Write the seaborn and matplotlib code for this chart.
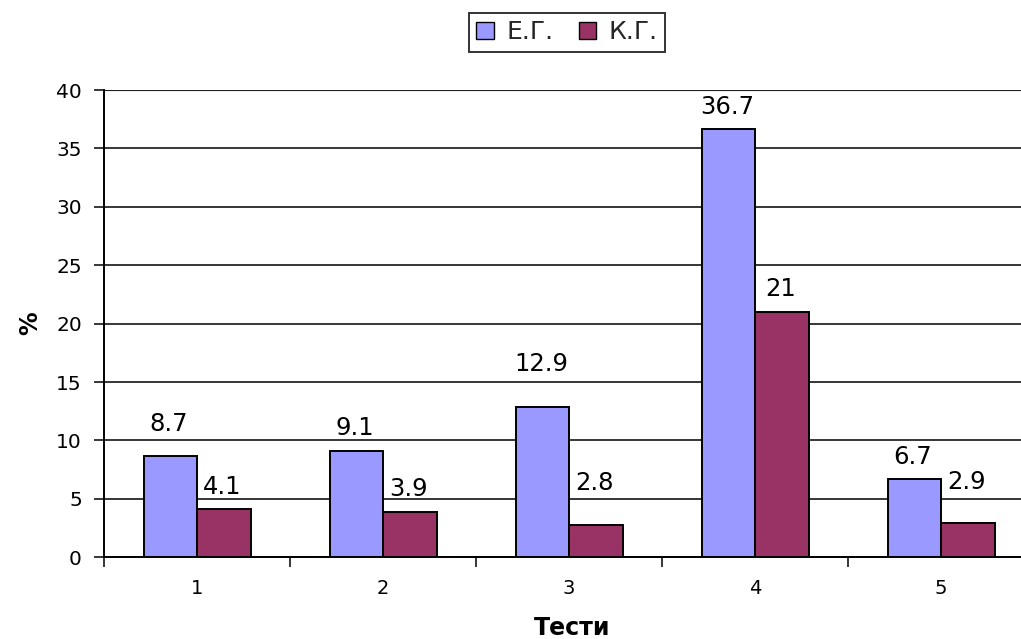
import matplotlib
matplotlib.use("Agg")
import matplotlib.pyplot as plt
from matplotlib.patches import Patch
from matplotlib.ticker import FixedLocator
import seaborn as sns
import pandas as pd

tests = ["1", "2", "3", "4", "5"]
eg_values = [8.7, 9.1, 12.9, 36.7, 6.7]
kg_values = [4.1, 3.9, 2.8, 21, 2.9]
groups = ["Е.Г.", "К.Г."]
colors = ["#9999FF", "#993366"]

# gap (points) between each bar top and its value label
eg_label_gap = [14, 8, 22, 7, 7.5]
kg_label_gap = [7.5, 8, 21, 8, 21]

df = pd.DataFrame({
    "test": tests * 2,
    "value": eg_values + kg_values,
    "group": [groups[0]] * len(tests) + [groups[1]] * len(tests),
})

sns.set_theme(style="white")
plt.rcParams["font.family"] = ["DejaVu Sans"]

fig = plt.figure(figsize=(10.21, 6.39), dpi=100)
ax = fig.add_axes([0.1019, 0.128, 0.911, 0.731])

sns.barplot(data=df, x="test", y="value", hue="group", palette=colors,
            width=0.575, edgecolor="black", linewidth=1.4, saturation=1,
            legend=False, ax=ax)

for cont, vals, gaps in zip(ax.containers, [eg_values, kg_values],
                            [eg_label_gap, kg_label_gap]):
    for bar, v, g in zip(cont.patches, vals, gaps):
        ax.annotate(f"{v:g}", xy=(bar.get_x() + bar.get_width() / 2, bar.get_height()),
                    xytext=(-1, g), textcoords="offset points",
                    ha="center", va="bottom", fontsize=17.5, color="black")

ax.set_ylim(0, 40)
ax.set_xlim(-0.5, 4.5)
ax.set_yticks(range(0, 41, 5))
ax.yaxis.grid(True, color="black", linewidth=1.1)
ax.set_axisbelow(True)
ax.tick_params(axis="y", direction="out", length=7, width=1.1, color="black",
               left=True, labelsize=14.5, pad=9, colors="black")
ax.tick_params(axis="x", which="major", length=0, labelsize=14, pad=16, colors="black")
ax.xaxis.set_minor_locator(FixedLocator([i - 0.5 for i in range(len(tests) + 1)]))
ax.tick_params(axis="x", which="minor", direction="out", length=7, width=1.1,
               color="black", bottom=True)

for side in ["top", "right"]:
    ax.spines[side].set_visible(False)
ax.spines["left"].set_color("black")
ax.spines["left"].set_linewidth(1.4)
ax.spines["bottom"].set_color("black")
ax.spines["bottom"].set_linewidth(1.4)
ax.axhline(40, color="#888888", linewidth=1.6, zorder=0)

ax.set_xlabel("Тести", fontsize=17, fontweight="bold", color="black")
ax.set_ylabel("%", fontsize=17, fontweight="bold", color="black")
ax.xaxis.set_label_coords(0.503, -0.152)
ax.xaxis.label.set_va("center")
ax.yaxis.set_label_coords(-0.0796, 0.5)
ax.yaxis.label.set_va("center")
ax.yaxis.label.set_ha("center")

handles = [Patch(facecolor=c, edgecolor="black", linewidth=1) for c in colors]
leg = fig.legend(handles, groups, loc="center", bbox_to_anchor=(567 / 1021, 1 - 32 / 639),
                 ncol=2, fontsize=18, frameon=True, fancybox=False,
                 handlelength=0.7, handleheight=0.7, handletextpad=0.5,
                 columnspacing=1.0, borderpad=0.3, borderaxespad=0)
leg.get_frame().set_edgecolor("black")
leg.get_frame().set_linewidth(1.4)

fig.savefig("out.png", dpi=100)
